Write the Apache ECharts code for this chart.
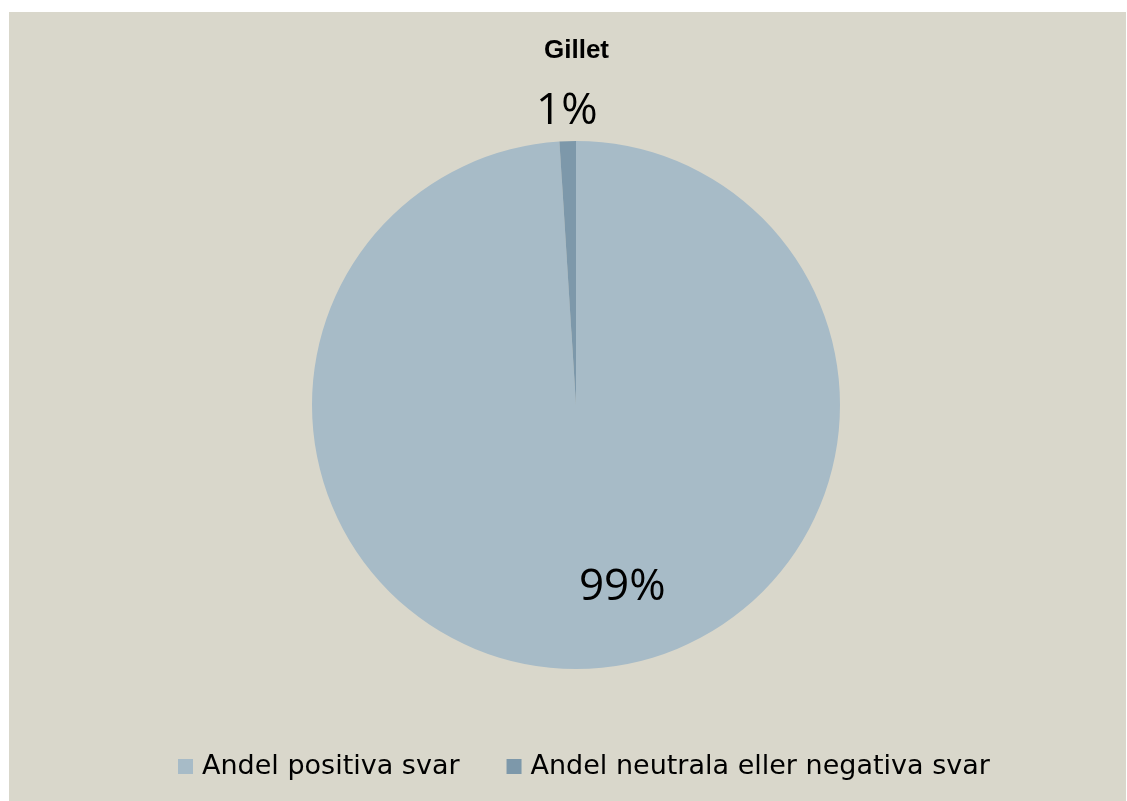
<!DOCTYPE html>
<html>
<head>
<meta charset="utf-8">
<script src="https://cdn.jsdelivr.net/npm/echarts@6/dist/echarts.min.js"></script>
<style>
html,body{margin:0;padding:0;background:#ffffff;}
#wrap{position:relative;width:1127px;height:801px;background:#ffffff;}
#chart{position:absolute;left:9px;top:12px;width:1117px;height:789px;}
</style>
</head>
<body>
<div id="wrap"><div id="chart"></div></div>
<script>
const titleText = "Gillet";
const categories = ["Andel positiva svar", "Andel neutrala eller negativa svar"];
const values = [99, 1];
const colors = ["#a7bbc7", "#7d98aa"];
const labelOffsets = [[42, 48], [-5, -159]];

const chart = echarts.init(document.getElementById('chart'), null, {renderer: 'canvas'});
const fontFam = "'Open Sans', 'DejaVu Sans', sans-serif";

chart.setOption({
  backgroundColor: '#d9d7cb',
  animation: false,
  title: {
    text: titleText,
    left: 530,
    top: 21,
    textStyle: {fontFamily: 'Liberation Sans, Arial, sans-serif', fontWeight: 'bold', fontSize: 26, color: '#000'}
  },
  legend: {
    left: 164,
    top: 736,
    itemWidth: 15,
    itemHeight: 15,
    itemGap: 47,
    icon: 'rect',
    textStyle: {fontFamily: "'DejaVu Sans', sans-serif", fontSize: 27, color: '#000', padding: [0, 0, 0, 4]},
    data: categories
  },
  series: [{
    type: 'pie',
    center: [567, 393],
    radius: [0, 264],
    startAngle: 90,
    clockwise: true,
    data: categories.map((c, i) => ({
      name: c,
      value: values[i],
      itemStyle: {color: colors[i]},
      label: {offset: labelOffsets[i]}
    })),
    label: {
      show: true,
      position: 'inside',
      formatter: '{d}%',
      fontFamily: fontFam,
      fontSize: 44,
      color: '#000'
    },
    labelLine: {show: false},
    emphasis: {disabled: true}
  }]
});
</script>
</body>
</html>
